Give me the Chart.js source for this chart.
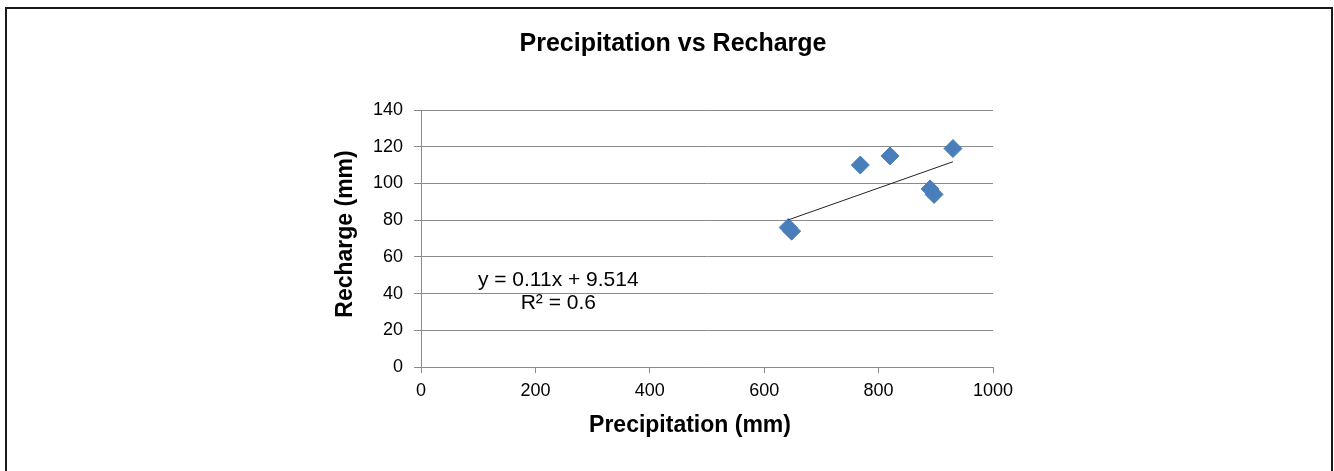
<!DOCTYPE html>
<html><head><meta charset="utf-8">
<script src="https://cdn.jsdelivr.net/npm/chart.js@4.4.1/dist/chart.umd.min.js"></script>
<style>
html,body{margin:0;padding:0;background:#fff;overflow:hidden}
#wrap{position:absolute;left:0;top:0;width:1334px;height:471px}
#frame{position:absolute;left:5px;top:7px;width:1328px;height:490px;border:2px solid #1a1a1a;box-sizing:border-box}
canvas{position:absolute;left:0;top:0}
</style></head><body>
<div id="wrap"><div id="frame"></div><canvas id="c" width="1334" height="471"></canvas></div>
<script>
// Data
const precipitation = [642, 648, 768, 820, 890, 897, 930];   // mm
const recharge      = [76, 74, 110, 115, 97, 94, 119];        // mm
const xTickValues = [0, 200, 400, 600, 800, 1000];
const yTickValues = [0, 20, 40, 60, 80, 100, 120, 140];
const trendSlope = 0.11;
const trendIntercept = 9.514;
const rSquared = 0.6;
const chartTitle = 'Precipitation vs Recharge';
const xTitle = 'Precipitation (mm)';
const yTitle = 'Recharge (mm)';
const equationLines = ['y = ' + trendSlope + 'x + ' + trendIntercept, 'R\u00B2 = ' + rSquared];

const FONT = 'Arial, "Liberation Sans", sans-serif';
const GRID = '#8a8a8a';

const trendX = [Math.min(...precipitation), Math.max(...precipitation)];
const trendData = trendX.map(x => ({x: x, y: trendSlope * x + trendIntercept}));
const pointData = precipitation.map((x, i) => ({x: x, y: recharge[i]}));

const textPlugin = {
  id: 'textPlugin',
  afterDraw(chart) {
    const ctx = chart.ctx;
    const xs = chart.scales.x, ys = chart.scales.y;
    ctx.save();
    ctx.fillStyle = '#000';
    ctx.textAlign = 'center';
    ctx.textBaseline = 'alphabetic';
    // chart title
    ctx.font = 'bold 25px ' + FONT;
    ctx.fillText(chartTitle, 673, 51);
    // x axis title
    ctx.font = 'bold 23px ' + FONT;
    ctx.fillText(xTitle, 690, 432);
    // y axis title (rotated)
    ctx.save();
    ctx.translate(352, 234);
    ctx.rotate(-Math.PI / 2);
    ctx.fillText(yTitle, 0, 0);
    ctx.restore();
    // trendline equation
    ctx.font = '21px ' + FONT;
    ctx.textBaseline = 'middle';
    ctx.fillText(equationLines[0], xs.getPixelForValue(240), ys.getPixelForValue(47.5));
    ctx.fillText(equationLines[1], xs.getPixelForValue(240), ys.getPixelForValue(34.5));
    ctx.restore();
  }
};

new Chart(document.getElementById('c'), {
  data: {
    datasets: [
      {
        type: 'scatter',
        data: pointData,
        pointStyle: 'rectRot',
        pointRadius: 9,
        pointHoverRadius: 9,
        backgroundColor: '#4a7ebb',
        borderColor: '#4a7ebb',
        borderWidth: 1,
        order: 2
      },
      {
        type: 'line',
        data: trendData,
        borderColor: '#222',
        borderWidth: 1,
        pointRadius: 0,
        fill: false,
        order: 1
      }
    ]
  },
  options: {
    responsive: false,
    animation: false,
    devicePixelRatio: 1,
    layout: {padding: {left: 300, right: 341, top: 110, bottom: 10}},
    plugins: {legend: {display: false}, tooltip: {enabled: false}, title: {display: false}},
    scales: {
      x: {
        type: 'linear', position: 'bottom', min: 0, max: 1000,
        afterBuildTicks: s => { s.ticks = xTickValues.map(v => ({value: v})); },
        afterFit: s => { s.height = 94; },
        ticks: {color: '#000', font: {family: FONT, size: 18}, padding: 7, maxRotation: 0,
                callback: v => String(v)},
        grid: {display: true, drawOnChartArea: false, drawTicks: true, tickLength: 6, color: GRID},
        border: {display: true, color: GRID, width: 1}
      },
      y: {
        type: 'linear', min: 0, max: 140,
        afterBuildTicks: s => { s.ticks = yTickValues.map(v => ({value: v})); },
        afterFit: s => { s.width = 121; },
        ticks: {color: '#000', font: {family: FONT, size: 18}, padding: 11, callback: v => String(v)},
        grid: {display: true, drawTicks: true, tickLength: 7, color: GRID},
        border: {display: true, color: GRID, width: 1}
      }
    }
  },
  plugins: [textPlugin]
});
</script>
</body></html>
